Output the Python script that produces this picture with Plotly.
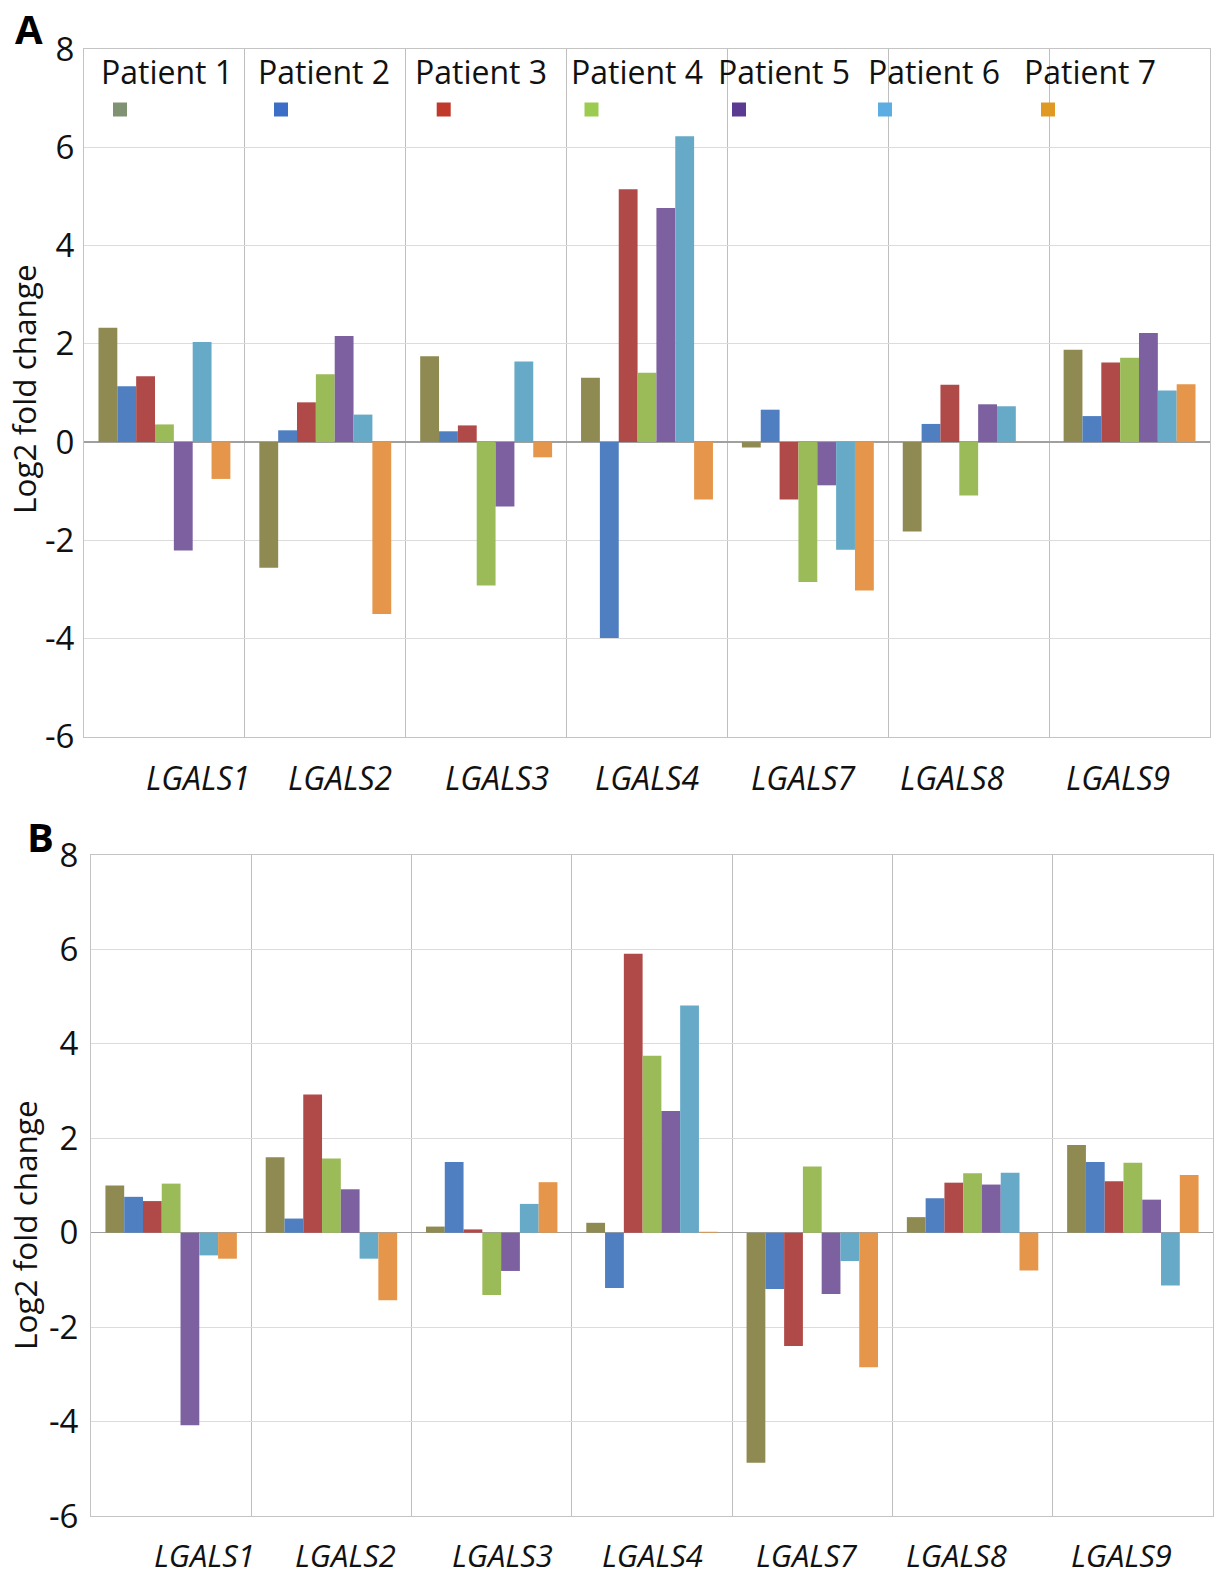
import plotly.graph_objects as go

# ---------------- data ----------------
genes = ["LGALS1", "LGALS2", "LGALS3", "LGALS4", "LGALS7", "LGALS8", "LGALS9"]
patients = ["Patient 1", "Patient 2", "Patient 3", "Patient 4",
            "Patient 5", "Patient 6", "Patient 7"]

# Panel A: Log2 fold change per patient, in gene order
a_p1 = [2.33, -2.56, 1.75, 1.31, -0.11, -1.82, 1.88]
a_p2 = [1.14, 0.24, 0.22, -3.99, 0.66, 0.37, 0.53]
a_p3 = [1.34, 0.81, 0.34, 5.15, -1.17, 1.17, 1.62]
a_p4 = [0.36, 1.38, -2.92, 1.41, -2.85, -1.09, 1.72]
a_p5 = [-2.21, 2.16, -1.31, 4.77, -0.88, 0.77, 2.22]
a_p6 = [2.04, 0.56, 1.64, 6.23, -2.19, 0.73, 1.05]
a_p7 = [-0.75, -3.50, -0.31, -1.17, -3.02, 0.0, 1.18]

# Panel B
b_p1 = [1.00, 1.60, 0.13, 0.21, -4.87, 0.33, 1.86]
b_p2 = [0.76, 0.30, 1.50, -1.17, -1.19, 0.73, 1.50]
b_p3 = [0.67, 2.93, 0.07, 5.91, -2.40, 1.06, 1.09]
b_p4 = [1.04, 1.57, -1.32, 3.75, 1.40, 1.26, 1.48]
b_p5 = [-4.08, 0.92, -0.81, 2.58, -1.30, 1.02, 0.70]
b_p6 = [-0.48, -0.55, 0.61, 4.81, -0.60, 1.27, -1.12]
b_p7 = [-0.55, -1.43, 1.07, 0.02, -2.85, -0.80, 1.22]

y_ticks = [-6, -4, -2, 0, 2, 4, 6, 8]
y_tick_labels = ["-6", "-4", "-2", "0", "2", "4", "6", "8"]

panel_a = [a_p1, a_p2, a_p3, a_p4, a_p5, a_p6, a_p7]
panel_b = [b_p1, b_p2, b_p3, b_p4, b_p5, b_p6, b_p7]

# ---------------- style ----------------
bar_colors = ["#8e8a52", "#4f7fc0", "#b04a48", "#9bbb59",
              "#7d60a0", "#66aac8", "#e5964a"]
legend_colors = ["#7f9272", "#3c6ec8", "#c0392b", "#9bcc4f",
                 "#5b3a91", "#5dade2", "#e09a24"]
label_shift = [0.21, 0.09, 0.065, 0.0, -0.03, -0.10, -0.07]

W, H = 1214, 1578
FONT = "Open Sans"


def px(x):
    return x / W


def py(y):
    return 1 - y / H


fig = go.Figure()

for i, name in enumerate(patients):
    fig.add_trace(go.Bar(x=genes, y=panel_a[i], name=name, xaxis="x", yaxis="y",
                         marker=dict(color=bar_colors[i], line=dict(width=0)),
                         showlegend=False))
for i, name in enumerate(patients):
    fig.add_trace(go.Bar(x=genes, y=panel_b[i], name=name, xaxis="x2", yaxis="y2",
                         marker=dict(color=bar_colors[i], line=dict(width=0)),
                         showlegend=False))

xcommon = dict(type="category", tickson="boundaries", showgrid=True,
               gridcolor="#bfbfbf", gridwidth=1, showticklabels=False,
               showline=True, linecolor="#c4c4c4", linewidth=1, mirror=True,
               zeroline=False, ticks="", fixedrange=True, automargin=False)
ycommon = dict(range=[-6, 8], tickvals=y_ticks, ticktext=y_tick_labels,
               showgrid=True, gridcolor="#dcdcdc", gridwidth=1,
               zeroline=True, zerolinecolor="#a0a0a0", zerolinewidth=1.5,
               showline=True, linecolor="#c4c4c4", linewidth=1, mirror=True,
               ticks="", automargin=False,
               tickfont=dict(family=FONT, size=33, color="#111111"))

fig.update_layout(
    width=W, height=H,
    margin=dict(l=0, r=0, t=0, b=0, autoexpand=False),
    paper_bgcolor="white", plot_bgcolor="white",
    barmode="group", bargap=0.18, bargroupgap=0,
    font=dict(family=FONT, color="#111111"),
    xaxis=dict(domain=[px(84), px(1210)], anchor="y", **xcommon),
    yaxis=dict(domain=[py(736.7), py(49.3)], anchor="x",
               ticklabelstandoff=2, **ycommon),
    xaxis2=dict(domain=[px(91), px(1213)], anchor="y2", **xcommon),
    yaxis2=dict(domain=[py(1516), py(855)], anchor="x2",
                ticklabelstandoff=5, **ycommon),
)

ann = []
# gene labels
for i, g in enumerate(genes):
    for xr, ypx, fs in (("x", 778, 32), ("x2", 1555, 31)):
        ann.append(dict(x=i + label_shift[i], y=py(ypx), xref=xr, yref="paper",
                        text="<i>%s</i>" % g, showarrow=False,
                        font=dict(family=FONT, size=fs, color="#111111"),
                        xanchor="center", yanchor="middle"))
# y axis titles
ann.append(dict(x=px(24), y=py(389), xref="paper", yref="paper",
                text="Log2 fold change", textangle=-90, showarrow=False,
                font=dict(family=FONT, size=31.5, color="#111111"),
                xanchor="center", yanchor="middle"))
ann.append(dict(x=px(24), y=py(1225), xref="paper", yref="paper",
                text="Log2 fold change", textangle=-90, showarrow=False,
                font=dict(family=FONT, size=31.5, color="#111111"),
                xanchor="center", yanchor="middle"))
# panel letters
ann.append(dict(x=px(29), y=py(28), xref="paper", yref="paper", text="<b>A</b>",
                showarrow=False, font=dict(family=FONT, size=40, color="#000000"),
                xanchor="center", yanchor="middle"))
ann.append(dict(x=px(40), y=py(836), xref="paper", yref="paper", text="<b>B</b>",
                showarrow=False, font=dict(family=FONT, size=40, color="#000000"),
                xanchor="center", yanchor="middle"))

# legend (panel A, inside plot)
leg_text_x = [166.7, 324, 480.5, 637, 784.4, 934, 1090]
leg_box_x = [120, 281, 443.7, 591.5, 739, 885, 1048]
shapes = []
for i, name in enumerate(patients):
    ann.append(dict(x=px(leg_text_x[i]), y=py(72), xref="paper", yref="paper",
                    text=name, showarrow=False,
                    font=dict(family=FONT, size=32, color="#111111"),
                    xanchor="center", yanchor="middle"))
    shapes.append(dict(type="rect", xref="paper", yref="paper",
                       x0=px(leg_box_x[i] - 7), x1=px(leg_box_x[i] + 7),
                       y0=py(116.5), y1=py(102.5),
                       fillcolor=legend_colors[i], line=dict(width=0)))

fig.update_layout(annotations=ann, shapes=shapes)

# remove the default page margin so the figure sits at the window's top-left
fig.write_html("out.html",
               config={"displayModeBar": False, "staticPlot": True},
               post_script="document.body.style.margin='0px';"
                           "document.body.style.overflow='hidden';")
